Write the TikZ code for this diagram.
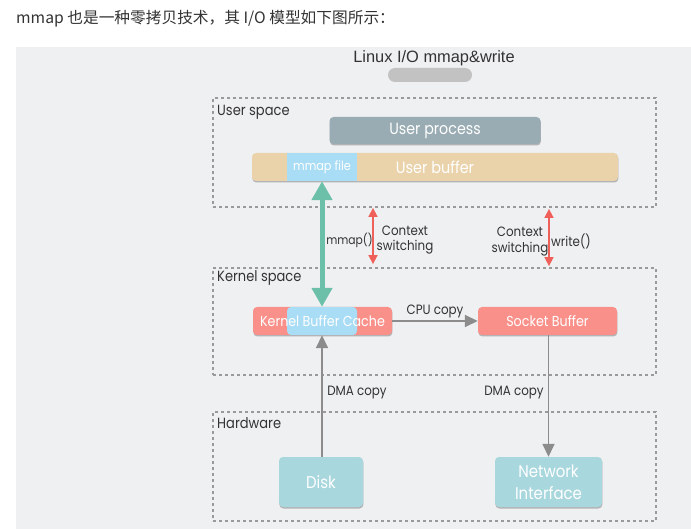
\documentclass[tikz,border=0pt]{standalone}
\usepackage{fontspec}
\setmainfont{Poppins}[FakeStretch=0.88]
\newfontfamily\cjk{Noto Sans CJK SC}
\newfontfamily\arialf{Liberation Sans}
\usetikzlibrary{arrows.meta,shadows}
\definecolor{panel}{HTML}{EFF0F2}
\definecolor{dashgray}{HTML}{9A9A9A}
\definecolor{txt}{HTML}{333333}
\definecolor{upgray}{HTML}{9AACB3}
\definecolor{ubtan}{HTML}{EAD3AB}
\definecolor{mmblue}{HTML}{A9DCF5}
\definecolor{salmon}{HTML}{F9918A}
\definecolor{hwteal}{HTML}{A8D7DE}
\definecolor{green}{HTML}{6CC0AA}
\definecolor{redarr}{HTML}{F0605A}
\definecolor{grayarr}{HTML}{8C8C8C}
\definecolor{blobgray}{HTML}{C2C2C2}
\tikzset{
  zone/.style={draw=dashgray, line width=1.8pt, dash pattern=on 3pt off 3pt, inner sep=0pt},
  sect/.style={anchor=west, text=txt, font=\fontsize{14.8}{17}\selectfont, inner sep=0pt},
  lbl/.style={text=txt, font=\fontsize{13.5}{15}\selectfont, inner sep=0pt},
  box/.style={rounded corners=4pt, inner sep=0pt, text=white,
    drop shadow={shadow xshift=0.4pt, shadow yshift=-1.5pt, opacity=0.25, fill=black}},
  redarrow/.style={draw=redarr, line width=1.6pt, {Triangle[width=9pt,length=9pt]}-{Triangle[width=9pt,length=9pt]}},
  grayarrow/.style={draw=grayarr, line width=1.6pt, -{Triangle[width=12pt,length=13pt]}},
}
\begin{document}
\begin{tikzpicture}[x=1pt,y=-1pt]
\useasboundingbox (0,0) rectangle (691,529);
\fill[white] (0,0) rectangle (691,529);
\fill[panel] (16,47) rectangle (691,529);
\node[anchor=west, inner sep=0pt, text=txt, font=\cjk\fontsize{15.7}{18}\selectfont] (intro) at (16,19) {mmap 也是一种零拷贝技术，其 I/O 模型如下图所示：};
\node[inner sep=0pt, text=txt, font=\arialf\fontsize{16.4}{18}\selectfont] (title) at (434,58) {Linux I/O mmap\&write};
\node[fill=blobgray, rounded corners=7pt, minimum width=84pt, minimum height=14pt, inner sep=0pt] (blob) at (430,75) {};

% zones
\node[zone, minimum width=443pt, minimum height=109pt] (us) at (434.5,152.5) {};
\node[zone, minimum width=443pt, minimum height=107pt] (ks) at (434.5,321.5) {};
\node[zone, minimum width=443pt, minimum height=109pt] (hw) at (434.5,466.5) {};
\node[sect] (uslbl) at (217,112) {User space};
\node[sect] (kslbl) at (217,278) {Kernel space};
\node[sect] (hwlbl) at (217,423) {Hardware};

% user space boxes
\node[box, fill=upgray, minimum width=211pt, minimum height=27pt, font=\fontsize{16.2}{18}\selectfont] (up) at (435,130.5) {User process};
\node[box, fill=ubtan, minimum width=366pt, minimum height=28pt, font=\fontsize{16.4}{18}\selectfont] (ub) at (435,167) {User buffer};
\node[fill=mmblue, minimum width=70pt, minimum height=28pt, inner sep=0pt, text=white, font=\fontsize{12.8}{14}\selectfont] (mf) at (322,167) {mmap file};

% kernel boxes
\node[box, fill=salmon, minimum width=139pt, minimum height=28pt, font=\fontsize{14.4}{16}\selectfont,
  path picture={\fill[mmblue] ([xshift=34pt]path picture bounding box.south west) rectangle ([xshift=104pt]path picture bounding box.north west);}] (kbc) at (322.5,321) {Kernel Buffer Cache};
\node[box, fill=salmon, minimum width=139pt, minimum height=28pt, font=\fontsize{14.4}{16}\selectfont] (sb) at (547.5,321) {Socket Buffer};

% hardware boxes
\node[box, fill=hwteal, minimum width=84pt, minimum height=50pt, font=\fontsize{17}{22}\selectfont] (disk) at (321,482) {Disk};
\node[box, fill=hwteal, minimum width=107pt, minimum height=50pt, align=center, font=\fontsize{17}{22}\selectfont] (ni) at (548.5,482) {Network\\Interface};

% arrows
\coordinate (r1) at (373,0);
\coordinate (r2) at (549,0);
\draw[draw=green, line width=5pt, {Triangle[width=20pt,length=19pt]}-{Triangle[width=20pt,length=19pt]}] (mf.south) -- (mf.south |- kbc.north);
\draw[redarrow] (us.south -| r1) -- ([yshift=3pt]ks.north -| r1);
\draw[redarrow] ([yshift=-1pt]us.south -| r2) -- ([yshift=1pt]ks.north -| r2);
\draw[grayarrow] (kbc.east) -- (sb.west);
\draw[grayarrow] (disk.north -| mf.south) -- (mf.south |- kbc.south);
\draw[grayarrow] (ni.north |- sb.south) -- (ni.north);

% labels
\node[lbl, font=\fontsize{12.2}{15}\selectfont] (mmapl) at (349.5,240) {mmap()};
\node[lbl] (ctx1a) at (405,231) {Context};
\node[lbl] (ctx1b) at (405,247) {switching};
\node[lbl] (ctx2a) at (520,232) {Context};
\node[lbl] (ctx2b) at (520,249) {switching};
\node[lbl] (writel) at (571,241) {write()};
\node[lbl] (cpul) at (435,311) {CPU copy};
\node[lbl] (dma1) at (357,393) {DMA copy};
\node[lbl] (dma2) at (514,393) {DMA copy};
\end{tikzpicture}
\end{document}
